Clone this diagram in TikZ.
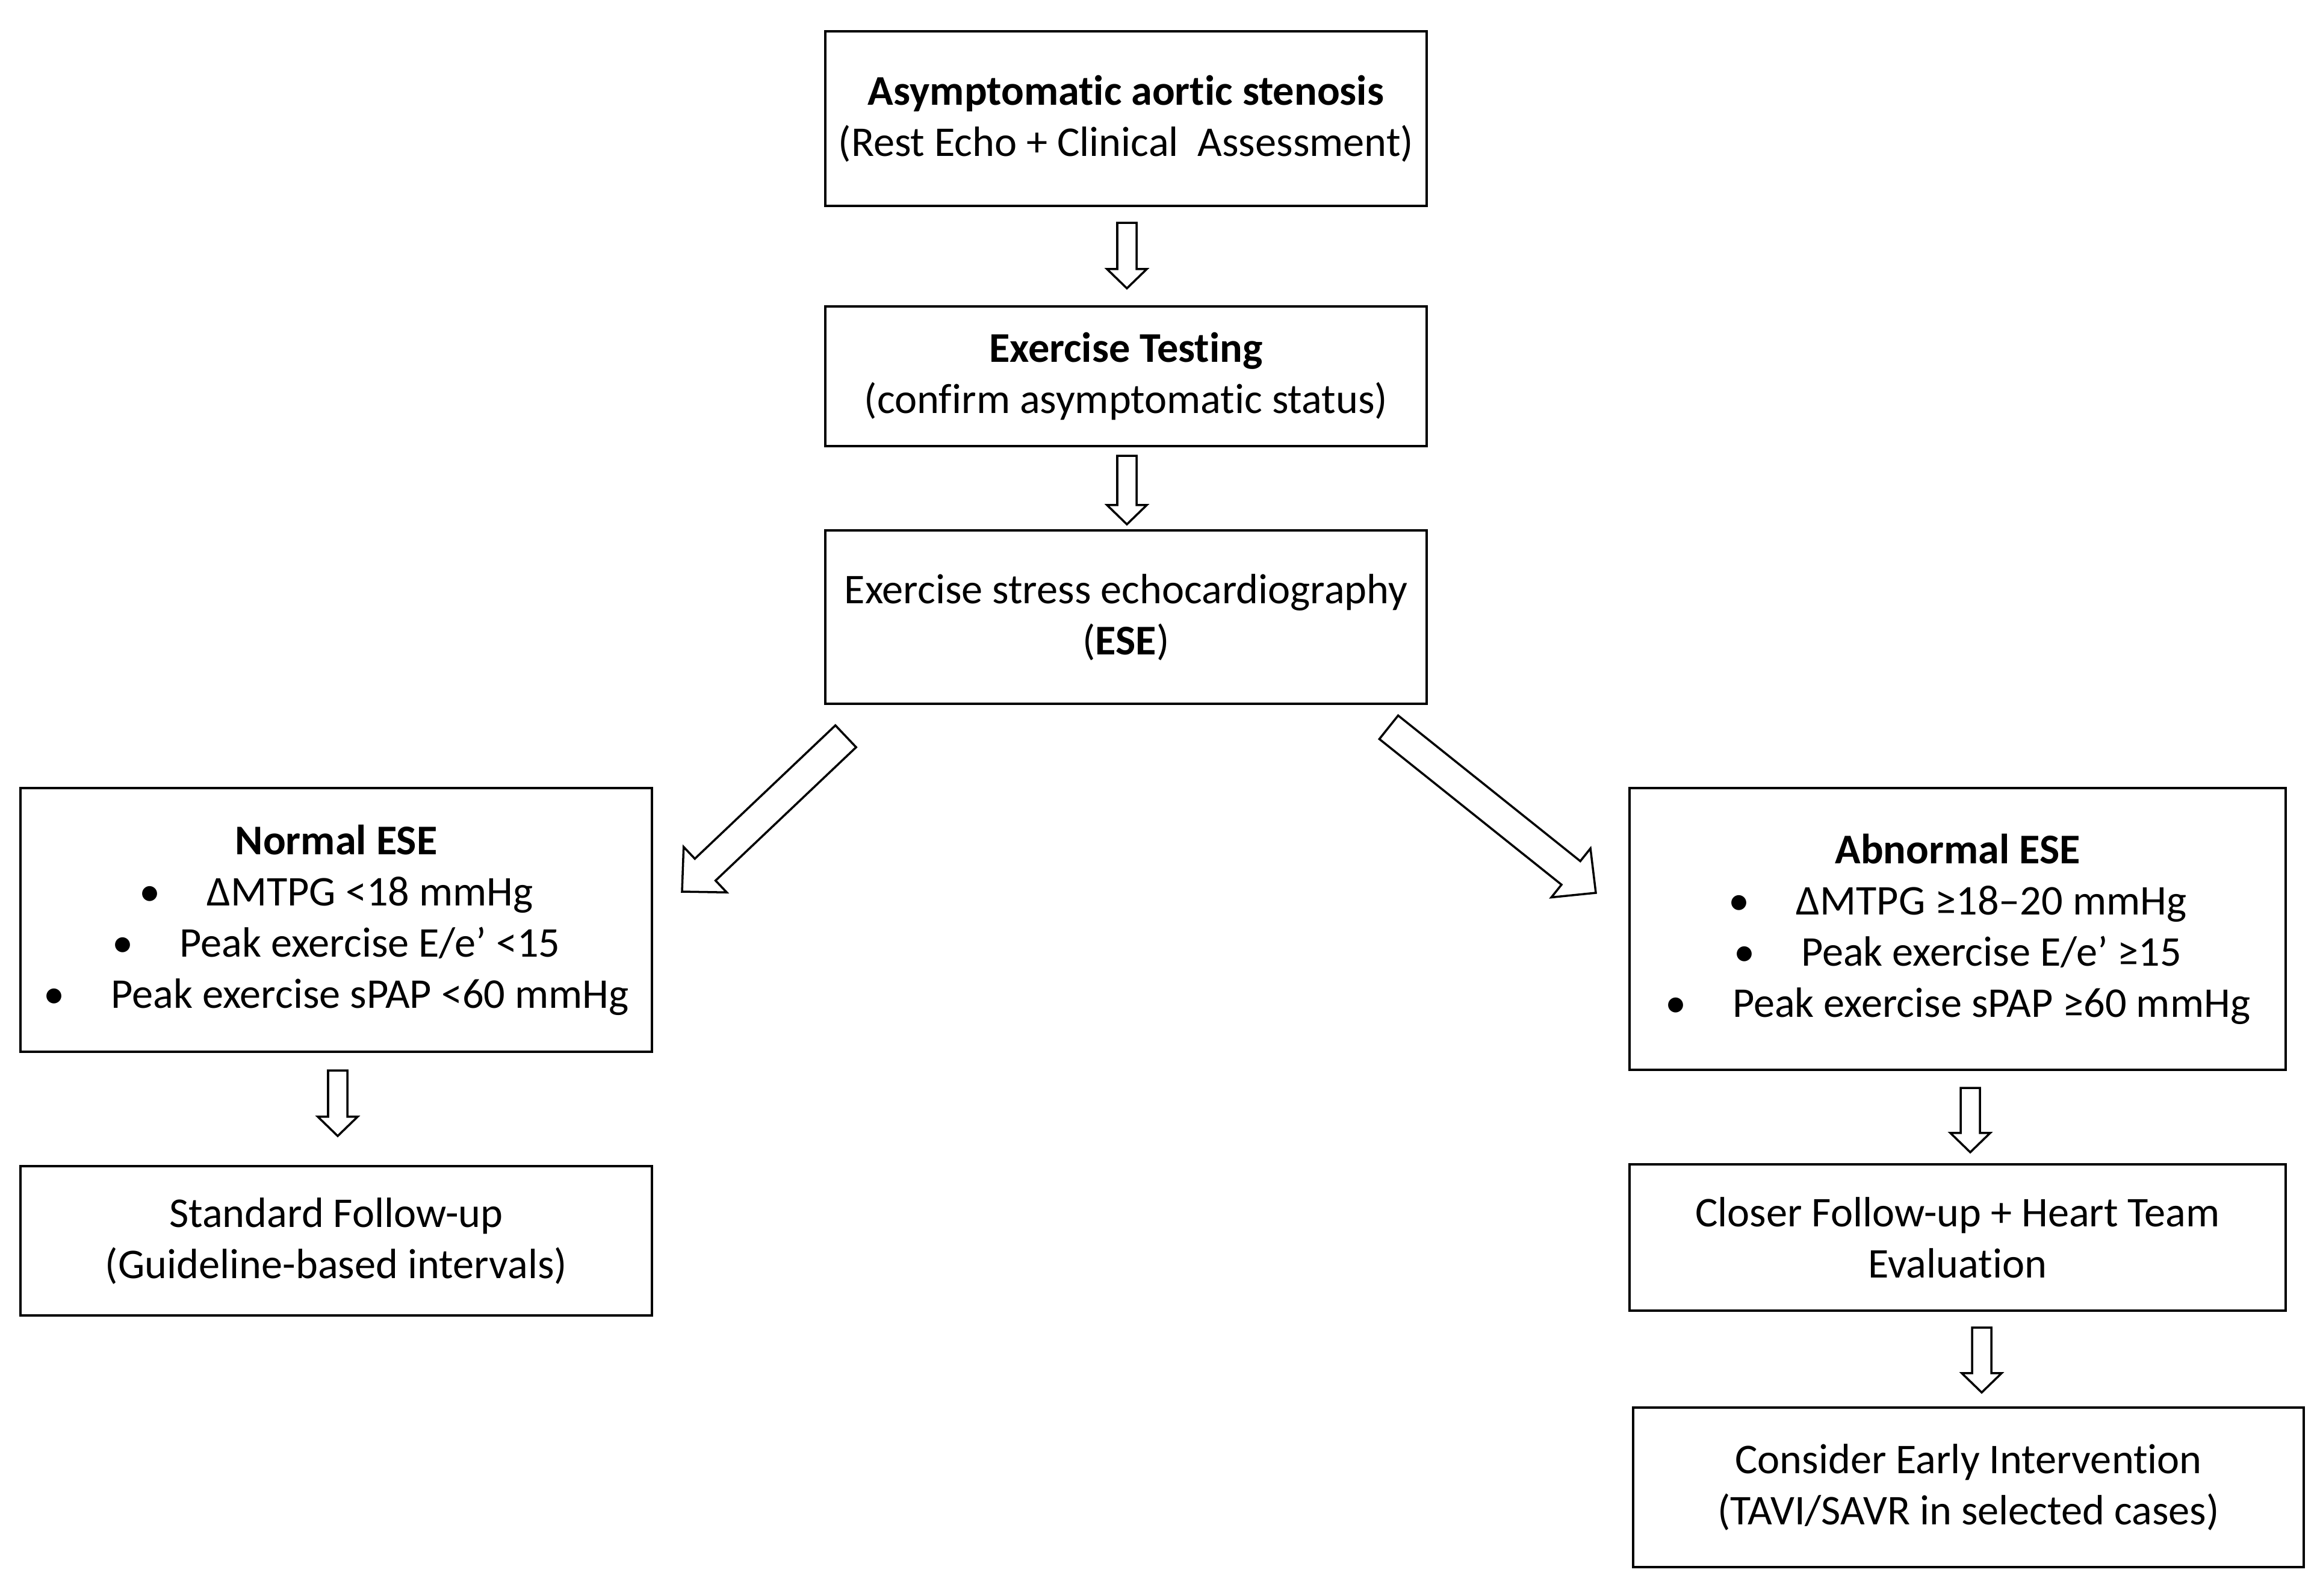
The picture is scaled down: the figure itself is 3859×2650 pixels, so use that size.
\documentclass[tikz,border=0pt]{standalone}
\usepackage{fontspec}
\setmainfont{Carlito}[Ligatures={TeX,NoCommon}]
\usetikzlibrary{calc}
\newcommand{\blockarrow}[5]{% #1 tail, #2 tip, #3 shaft half width, #4 head half width, #5 head length
  \coordinate (hb) at ($(#2)!#5!(#1)$);
  \draw[arrowline] ($(#1)!#3!90:(#2)$) -- ($(hb)!#3!90:(#2)$) -- ($(hb)!#4!90:(#2)$) -- (#2)
    -- ($(hb)!#4!-90:(#2)$) -- ($(hb)!#3!-90:(#2)$) -- ($(#1)!#3!-90:(#2)$) -- cycle;
}
\newcommand{\bul}{\makebox[1.12cm][l]{•}}
\begin{document}
\begin{tikzpicture}[x=0.01cm,y=-0.01cm,
  box/.style={draw, line width=1.2pt, align=center, inner sep=0pt, outer sep=0pt,
    font=\fontsize{20pt}{24.2pt}\selectfont},
  arrowline/.style={line width=1pt, line join=miter, draw=black, fill=white}]
\useasboundingbox (0,0) rectangle (3859,2650);

\node[box, minimum width=9.99cm, minimum height=2.90cm] (b1) at (1870.5,197)
  {\textbf{Asymptomatic aortic stenosis}\\(Rest Echo + Clinical\ \ Assessment)};
\node[box, minimum width=9.99cm, minimum height=2.32cm] (b2) at (1870.5,625)
  {\textbf{Exercise Testing}\\(confirm asymptomatic status)};
\node[box, minimum width=9.99cm, minimum height=2.88cm] (b3) at (1870.5,1025)
  {Exercise stress echocardiography\\(\textbf{ESE})};

\node[box, minimum width=10.49cm, minimum height=4.38cm] (nrm) at (558.5,1528)
  {\textbf{Normal ESE}\\
   \bul ΔMTPG <18 mmHg\\
   \bul Peak exercise E/e’ <15\\
   \bul Peak exercise sPAP <60 mmHg};
\node[box, minimum width=10.49cm, minimum height=2.48cm] (std) at (558.5,2061)
  {Standard Follow-up\\(Guideline-based intervals)};

\node[box, minimum width=10.90cm, minimum height=4.68cm] (abn) at (3252,1543)
  {\textbf{Abnormal ESE}\\
   \bul ΔMTPG ≥18–20 mmHg\\
   \bul Peak exercise E/e’ ≥15\\
   \bul Peak exercise sPAP ≥60 mmHg};
\node[box, minimum width=10.90cm, minimum height=2.43cm] (clo) at (3252,2055.5)
  {Closer Follow-up + Heart Team\\Evaluation};
\node[box, minimum width=11.14cm, minimum height=2.65cm] (con) at (3270,2470.5)
  {Consider Early Intervention\\(TAVI/SAVR in selected cases)};

% vertical block arrows
\coordinate (a1t) at ($(b1.south)+(1.5,28)$);
\coordinate (a1h) at ($(b2.north)+(1.5,-30)$);
\coordinate (a2t) at ($(b2.south)+(1.5,16)$);
\coordinate (a2h) at ($(b3.north)+(1.5,-10)$);
\coordinate (a3t) at ($(nrm.south)+(2.5,31)$);
\coordinate (a3h) at ($(std.north)+(2.5,-50)$);
\coordinate (a4t) at ($(abn.south)+(21,30)$);
\coordinate (a4h) at ($(clo.north)+(21,-20)$);
\coordinate (a5t) at ($(clo.south)+(40,28)$);
\coordinate (a5h) at ($(con.north)+(22,-25)$);
\blockarrow{a1t}{a1h}{0.16cm}{0.33cm}{0.32cm}
\blockarrow{a2t}{a2h}{0.16cm}{0.33cm}{0.32cm}
\blockarrow{a3t}{a3h}{0.16cm}{0.33cm}{0.32cm}
\blockarrow{a4t}{a4h}{0.16cm}{0.33cm}{0.32cm}
\blockarrow{a5t}{a5h}{0.16cm}{0.33cm}{0.32cm}

% diagonal block arrows
\coordinate (dlt) at (1405,1223);
\coordinate (dlh) at (1133,1481);
\coordinate (drt) at (2307,1208);
\coordinate (drh) at (2651,1483);
\blockarrow{dlt}{dlh}{0.25cm}{0.52cm}{0.53cm}
\blockarrow{drt}{drh}{0.25cm}{0.52cm}{0.53cm}
\end{tikzpicture}
\end{document}
